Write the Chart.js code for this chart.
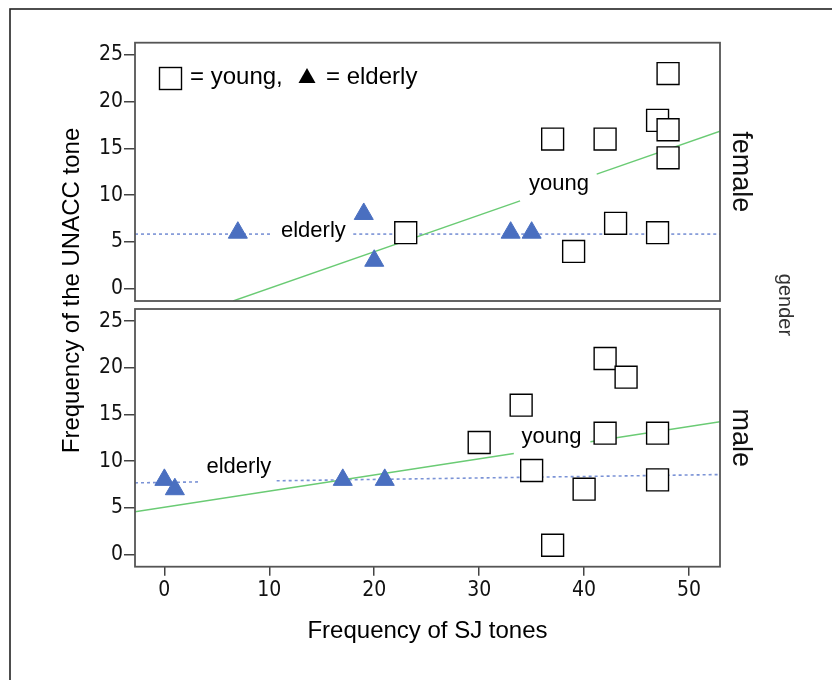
<!DOCTYPE html>
<html>
<head>
<meta charset="utf-8">
<script src="https://cdn.jsdelivr.net/npm/chart.js@4"></script>
<style>
  body { margin: 0; background: #fff; }
  #wrap { position: relative; width: 832px; height: 680px; overflow: hidden; }
  #wrap canvas { position: absolute; left: 0; top: 0; }
</style>
</head>
<body>
<div id="wrap">
  <canvas id="chartFemale" width="832" height="680"></canvas>
  <canvas id="chartMale" width="832" height="680"></canvas>
</div>
<script>
// --- data ---
const femaleYoungX = [23, 37, 39, 42, 43, 47, 47, 48, 48, 48];
const femaleYoungY = [6, 16, 4, 16, 7, 18, 6, 23, 17, 14];
const femaleElderlyX = [7, 19, 20, 33, 35];
const femaleElderlyY = [6, 8, 3, 6, 6];

const maleYoungX = [30, 34, 35, 37, 40, 42, 44, 42, 47, 47];
const maleYoungY = [12, 16, 9, 1, 7, 21, 19, 13, 13, 8];
const maleElderlyX = [0, 1, 17, 21];
const maleElderlyY = [8, 7, 8, 8];

// fit lines, as segments (the gaps are where the labels sit)
const femaleYoungFitX = [[6.55, 33.9], [41.2, 52.95]];
const femaleYoungFitY = [[-1.3, 9.4], [12.25, 16.84]];
const femaleElderlyFitX = [[-2.8, 10.3], [18, 52.95]];
const femaleElderlyFitY = [[5.85, 5.85], [5.85, 5.85]];
const maleYoungFitX = [[-2.8, 33.3], [40.6, 52.95]];
const maleYoungFitY = [[4.58, 10.82], [12.08, 14.22]];
const maleElderlyFitX = [[-2.8, 3.2], [10.7, 52.95]];
const maleElderlyFitY = [[7.68, 7.78], [7.9, 8.57]];

const xTicks = [0, 10, 20, 30, 40, 50];
const yTicks = [0, 5, 10, 15, 20, 25];

const SANS = "'Liberation Sans', Arial, sans-serif";
const TICKFONT = "'DejaVu Sans Condensed', 'DejaVu Sans', sans-serif";
const BLUE = "#4a6fc0";
const BLUE_LINE = "#7b93d6";
const GREEN = "#6acb74";

function pts(xs, ys) {
  return xs.map((x, i) => ({ x: x, y: ys[i] }));
}

function markerSets(youngX, youngY, oldX, oldY) {
  return [
    {
      label: "young", data: pts(youngX, youngY), order: 1,
      pointStyle: "rect", pointRadius: 15.5, pointBackgroundColor: "#fff",
      pointBorderColor: "#000", pointBorderWidth: 1.4, showLine: false
    },
    {
      label: "elderly", data: pts(oldX, oldY), order: 1,
      pointStyle: "triangle", pointRadius: 11, pointBackgroundColor: BLUE,
      pointBorderColor: BLUE, pointBorderWidth: 1, showLine: false
    }
  ];
}

function lineSets(fx, fy, color, dash) {
  return fx.map((seg, i) => ({
    type: "line", data: pts(seg, fy[i]), order: 2,
    borderColor: color, borderWidth: dash ? 1.6 : 1.4, borderDash: dash || [],
    pointRadius: 0, showLine: true, fill: false
  }));
}

// extra drawing: panel frame, line labels, facet labels
function panelPlugin(labels, facet, extra) {
  return {
    id: "panel",
    afterDraw(chart) {
      const ctx = chart.ctx, a = chart.chartArea;
      const sx = chart.scales.x, sy = chart.scales.y;
      ctx.save();
      ctx.strokeStyle = "#555";
      ctx.lineWidth = 1.8;
      ctx.strokeRect(a.left, a.top, a.right - a.left, a.bottom - a.top);

      ctx.fillStyle = "#000";
      ctx.font = "22px " + SANS;
      ctx.textAlign = "center";
      ctx.textBaseline = "middle";
      labels.forEach((l) => {
        ctx.fillText(l.text, sx.getPixelForValue(l.x), sy.getPixelForValue(l.y));
      });

      ctx.save();
      ctx.translate(733, (a.top + a.bottom) / 2);
      ctx.rotate(Math.PI / 2);
      ctx.font = "27px " + SANS;
      ctx.textBaseline = "alphabetic";
      ctx.fillStyle = "#111";
      ctx.fillText(facet, 0, 0);
      ctx.restore();

      if (extra) extra(ctx);
      ctx.restore();
    }
  };
}

function baseOptions(pad, showX) {
  const xScale = {
    type: "linear", min: -2.8, max: 52.95, display: showX,
    afterBuildTicks(s) { s.ticks = xTicks.map((v) => ({ value: v })); },
    ticks: { font: { family: TICKFONT, size: 21 }, color: "#111", padding: 2 },
    grid: { drawOnChartArea: false, tickLength: 9, color: "#444", lineWidth: 1.5 },
    border: { display: false }
  };
  if (showX) xScale.afterFit = (s) => { s.height = 40; };
  return {
    responsive: false,
    animation: false,
    events: [],
    layout: { padding: pad },
    plugins: { legend: { display: false }, tooltip: { enabled: false } },
    scales: {
      x: xScale,
      y: {
        type: "linear", min: -1.3, max: 26.3,
        afterFit(s) { s.width = 135; },
        afterBuildTicks(s) { s.ticks = yTicks.map((v) => ({ value: v })); },
        ticks: { font: { family: TICKFONT, size: 21 }, color: "#111", padding: 1 },
        grid: { drawOnChartArea: false, tickLength: 11, color: "#444", lineWidth: 1.5 },
        border: { display: false }
      }
    }
  };
}

// female panel (top)
new Chart(document.getElementById("chartFemale"), {
  type: "scatter",
  data: {
    datasets: [
      ...markerSets(femaleYoungX, femaleYoungY, femaleElderlyX, femaleElderlyY),
      ...lineSets(femaleYoungFitX, femaleYoungFitY, GREEN, null),
      ...lineSets(femaleElderlyFitX, femaleElderlyFitY, BLUE_LINE, [3, 3])
    ]
  },
  options: baseOptions({ left: 0, right: 112, top: 42.7, bottom: 379 }, false),
  plugins: [panelPlugin(
    [{ text: "young", x: 37.6, y: 11.2 }, { text: "elderly", x: 14.2, y: 6.2 }],
    "female",
    (ctx) => {
      // legend box
      ctx.strokeStyle = "#000";
      ctx.lineWidth = 1.4;
      ctx.strokeRect(159.5, 67.5, 22, 22);
      ctx.font = "24px " + SANS;
      ctx.textAlign = "left";
      ctx.textBaseline = "alphabetic";
      ctx.fillText("= young,", 190, 84);
      ctx.beginPath();
      ctx.moveTo(307, 68);
      ctx.lineTo(315.5, 83);
      ctx.lineTo(298.5, 83);
      ctx.closePath();
      ctx.fill();
      ctx.fillText("= elderly", 326, 84);
      // outer frame
      ctx.strokeStyle = "#222";
      ctx.lineWidth = 1.6;
      ctx.strokeRect(10, 9, 900, 900);
    }
  )]
});

// male panel (bottom)
new Chart(document.getElementById("chartMale"), {
  type: "scatter",
  data: {
    datasets: [
      ...markerSets(maleYoungX, maleYoungY, maleElderlyX, maleElderlyY),
      ...lineSets(maleYoungFitX, maleYoungFitY, GREEN, null),
      ...lineSets(maleElderlyFitX, maleElderlyFitY, BLUE_LINE, [3, 3])
    ]
  },
  options: baseOptions({ left: 0, right: 112, top: 309, bottom: 73.3 }, true),
  plugins: [panelPlugin(
    [{ text: "young", x: 36.9, y: 12.56 }, { text: "elderly", x: 7.1, y: 9.35 }],
    "male",
    (ctx) => {
      ctx.fillStyle = "#000";
      ctx.font = "24px " + SANS;
      ctx.textAlign = "center";
      ctx.textBaseline = "alphabetic";
      ctx.fillText("Frequency of SJ tones", 427.5, 638);

      ctx.save();
      ctx.translate(79, 290.5);
      ctx.rotate(-Math.PI / 2);
      ctx.fillText("Frequency of the UNACC tone", 0, 0);
      ctx.restore();

      ctx.save();
      ctx.translate(779, 305);
      ctx.rotate(Math.PI / 2);
      ctx.font = "20px " + SANS;
      ctx.fillStyle = "#333";
      ctx.fillText("gender", 0, 0);
      ctx.restore();
    }
  )]
});
</script>
</body>
</html>
